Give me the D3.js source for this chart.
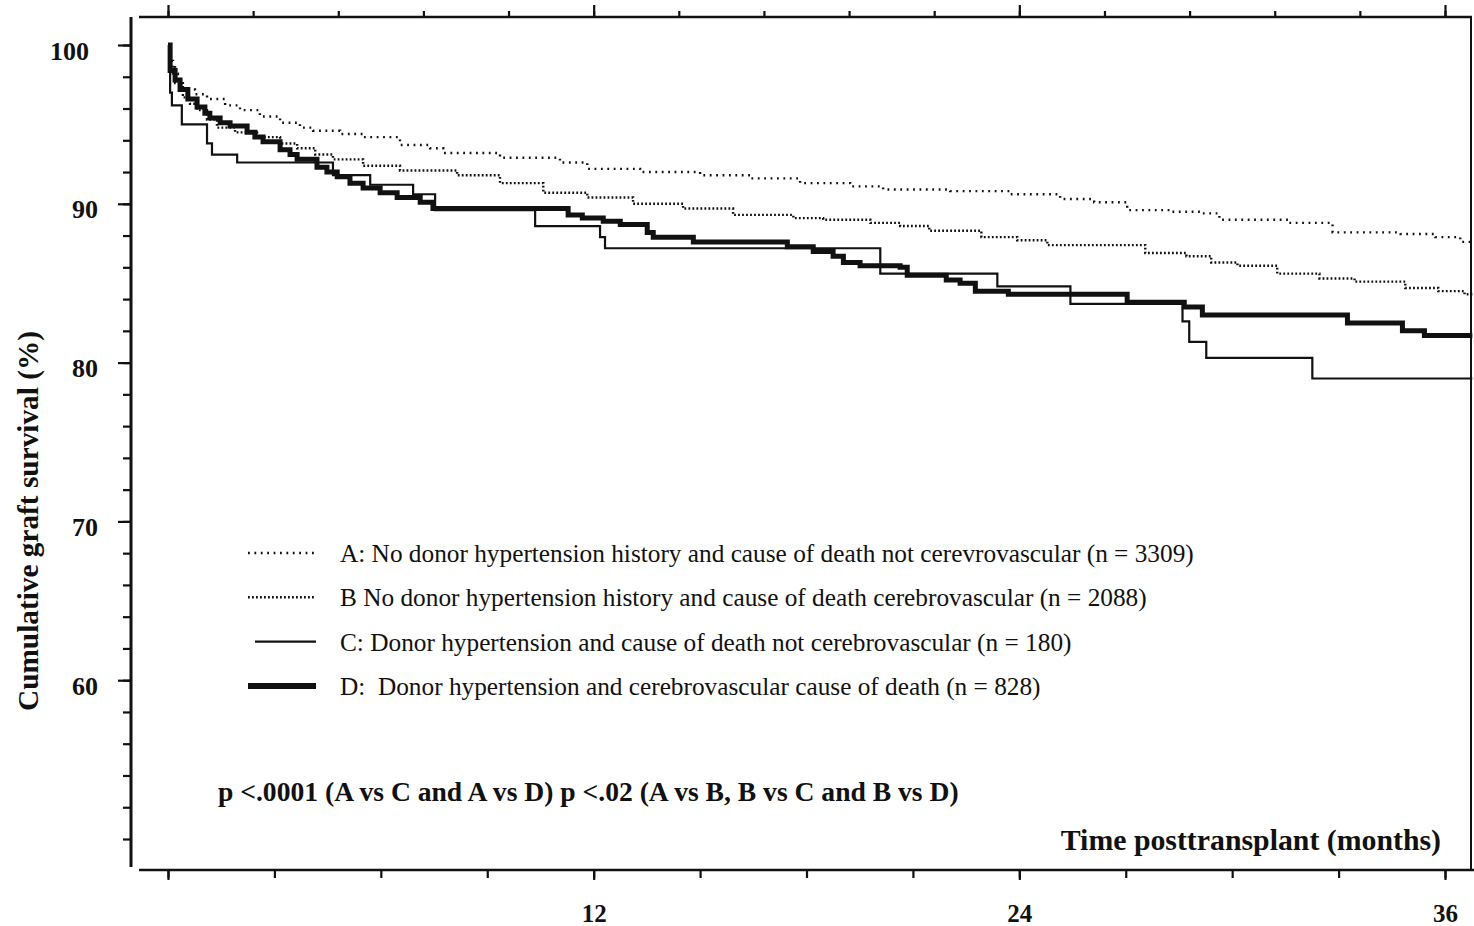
<!DOCTYPE html>
<html>
<head>
<meta charset="utf-8">
<script src="https://cdn.jsdelivr.net/npm/d3@7"></script>
<style>
  body { margin: 0; background: #fff; }
  svg { display: block; }
  text { font-family: "Liberation Serif", "Times New Roman", serif; fill: #111; }
</style>
</head>
<body>
<script>
'use strict';

// survival curves (months, %)
const monthsA = [0, 0.06, 0.14, 0.28, 0.42, 0.76, 1.10, 1.61, 2.03, 2.59, 3.16, 3.72, 4.09, 4.85, 5.50,
  6.54, 7.39, 7.76, 9.36, 11.05, 11.82, 13.31, 15.00, 16.41, 17.82, 19.23, 20.16, 22.05, 23.74, 25.15,
  26.11, 27.04, 28.26, 29.10, 29.64, 31.58, 32.83, 34.75, 35.73, 36.43]
const survA = [100, 99.0, 98.2, 97.6, 97.2, 96.9, 96.6, 96.2, 95.9, 95.5, 95.1, 94.8, 94.6, 94.4, 94.2,
  93.7, 93.5, 93.2, 92.9, 92.6, 92.2, 92.0, 91.8, 91.6, 91.3, 91.1, 90.9, 90.8, 90.6, 90.3,
  90.1, 89.6, 89.5, 89.4, 89.0, 88.8, 88.2, 88.1, 87.9, 87.6]

const monthsB = [0, 0.06, 0.20, 0.42, 0.62, 0.82, 1.10, 1.38, 1.89, 2.51, 3.16, 3.64, 4.15, 4.65, 5.50,
  6.54, 8.15, 9.36, 10.58, 11.82, 13.11, 14.52, 15.93, 17.63, 18.47, 19.80, 20.64, 21.46, 22.93, 23.94,
  24.79, 27.55, 28.71, 29.41, 30.15, 31.27, 32.46, 33.45, 34.88, 35.81, 36.55]
const survB = [100, 98.6, 97.6, 96.7, 96.3, 95.9, 95.3, 94.8, 94.5, 94.2, 93.8, 93.5, 93.1, 92.8, 92.4,
  92.1, 91.8, 91.3, 90.7, 90.4, 90.0, 89.7, 89.3, 89.1, 89.0, 88.8, 88.6, 88.3, 87.9, 87.7,
  87.4, 86.9, 86.7, 86.3, 86.1, 85.6, 85.3, 85.1, 84.7, 84.5, 84.3]

const monthsC = [0, 0.06, 0.11, 0.39, 1.10, 1.24, 1.95, 4.65, 5.70, 6.91, 7.53, 10.35, 12.18, 12.32,
  20.08, 23.38, 25.44, 28.60, 28.79, 29.27, 32.26]
const survC = [100, 97.0, 96.2, 95.0, 93.8, 93.1, 92.6, 91.8, 91.2, 90.6, 89.6, 88.6, 87.9, 87.2,
  85.6, 84.8, 83.7, 82.6, 81.3, 80.3, 79.0]

const monthsD = [0, 0.06, 0.20, 0.34, 0.56, 0.82, 1.04, 1.18, 1.47, 1.75, 2.23, 2.45, 2.68, 3.16, 3.44,
  3.64, 4.20, 4.48, 4.77, 5.13, 5.50, 5.98, 6.46, 7.11, 7.47, 11.28, 11.68, 12.27, 12.75, 13.51,
  13.68, 14.81, 17.46, 18.19, 18.75, 19.04, 19.51, 20.64, 20.84, 21.94, 22.33, 22.76, 23.69, 27.04, 28.65,
  29.16, 33.25, 34.80, 35.42]
const survD = [100, 98.4, 97.8, 97.2, 96.6, 96.1, 95.7, 95.4, 95.1, 94.9, 94.5, 94.2, 93.9, 93.4, 93.1,
  92.8, 92.3, 92.0, 91.7, 91.3, 91.0, 90.7, 90.4, 90.1, 89.7, 89.3, 89.1, 88.9, 88.7, 88.2,
  87.9, 87.6, 87.3, 87.0, 86.7, 86.3, 86.1, 86.0, 85.5, 85.2, 85.0, 84.5, 84.3, 83.8, 83.5,
  83.0, 82.5, 82.0, 81.7]

const followUpEnd = 36.77

const legendLabels = [
  "A: No donor hypertension history and cause of death not cerevrovascular (n = 3309)",
  "B No donor hypertension history and cause of death cerebrovascular (n = 2088)",
  "C: Donor hypertension and cause of death not cerebrovascular (n = 180)",
  "D:  Donor hypertension and cerebrovascular cause of death (n = 828)"
]

const yMajorTicks = [60, 70, 80, 90, 100]
const yMinorTicks = d3.range(50, 101, 2)
const xMajorTicks = [0, 12, 24, 36]
const xTopTicks = d3.range(0, 16).map((i) => +(i * 2.4).toFixed(1))
const xBottomTicks = d3.range(0, 37, 3)

const pText = "p <.0001 (A vs C and A vs D) p <.02 (A vs B, B vs C and B vs D)"
const xTitle = "Time posttransplant (months)"
const yTitle = "Cumulative graft survival (%)"

const m = {
  width: 1474,
  height: 926,
  left: 131,
  top: 17,
  bottom: 870,
  right: 1471
}

const styles = [
  { width: 2.4, dash: "1.8,4.6" },
  { width: 2.4, dash: "1.8,2.2" },
  { width: 2.2, dash: null },
  { width: 5, dash: null }
]

const svg = d3.select('body')
  .append('svg')
  .attr('width', m.width)
  .attr('height', m.height)

const xScale = d3.scaleLinear().domain([0, 36]).range([168, 1445])
const yScale = d3.scaleLinear().domain([50, 100]).range([839, 45])

drawFrame()
drawAxes()
drawCurves()
drawLegend()
drawLabels()


function drawFrame() {
  svg.append('line')
    .attr('x1', m.left).attr('x2', m.left)
    .attr('y1', m.top).attr('y2', m.bottom - 3)
    .attr('stroke', '#111').attr('stroke-width', 3)
  svg.append('line')
    .attr('x1', 139).attr('x2', m.right + 1)
    .attr('y1', m.top).attr('y2', m.top)
    .attr('stroke', '#111').attr('stroke-width', 2.5)
  svg.append('line')
    .attr('x1', 139).attr('x2', m.width)
    .attr('y1', m.bottom).attr('y2', m.bottom)
    .attr('stroke', '#111').attr('stroke-width', 2.5)
  svg.append('line')
    .attr('x1', m.right).attr('x2', m.right)
    .attr('y1', m.top).attr('y2', m.bottom)
    .attr('stroke', '#111').attr('stroke-width', 2)
}

function styleAxis(g) {
  g.select('.domain').remove()
  g.selectAll('.tick line').attr('stroke', '#111').attr('stroke-width', 2.2)
}

function drawAxes() {
  // left: minor every 2, major every 10
  svg.append('g')
    .attr('transform', 'translate(' + m.left + ',0)')
    .call(d3.axisLeft(yScale).tickValues(yMinorTicks).tickSize(8).tickFormat(''))
    .call(styleAxis)
  svg.append('g')
    .attr('transform', 'translate(' + m.left + ',0)')
    .call(d3.axisLeft(yScale).tickValues(yMajorTicks).tickSize(13).tickPadding(20).tickFormat(d3.format('d')))
    .call(styleAxis)
    .call((g) => g.selectAll('text')
      .attr('dy', '14px')
      .attr('dx', (d) => d === 100 ? -9 : 0)
      .style('font-size', '26px')
      .style('font-weight', 'bold'))

  // top
  svg.append('g')
    .attr('transform', 'translate(0,' + m.top + ')')
    .call(d3.axisTop(xScale).tickValues(xTopTicks).tickSize(6).tickFormat(''))
    .call(styleAxis)
  svg.append('g')
    .attr('transform', 'translate(0,' + m.top + ')')
    .call(d3.axisTop(xScale).tickValues(xMajorTicks).tickSize(12).tickFormat(''))
    .call(styleAxis)

  // bottom
  svg.append('g')
    .attr('transform', 'translate(0,' + m.bottom + ')')
    .call(d3.axisBottom(xScale).tickValues(xBottomTicks).tickSize(8).tickFormat(''))
    .call(styleAxis)
  svg.append('g')
    .attr('transform', 'translate(0,' + m.bottom + ')')
    .call(d3.axisBottom(xScale).tickValues(xMajorTicks).tickSize(10)
      .tickFormat((d) => d === 0 ? '' : d))
    .call(styleAxis)
    .call((g) => g.selectAll('text')
      .attr('y', 52)
      .attr('dy', 0)
      .style('font-size', '25px')
      .style('font-weight', 'bold'))
}

function makeSeries(months, surv) {
  let pts = months.map((t, i) => ({ t: t, v: surv[i] }))
  pts.push({ t: followUpEnd, v: surv[surv.length - 1] })
  return pts
}

function drawCurves() {
  const series = [
    makeSeries(monthsA, survA),
    makeSeries(monthsB, survB),
    makeSeries(monthsC, survC),
    makeSeries(monthsD, survD)
  ]
  const line = d3.line()
    .x((d) => xScale(d.t))
    .y((d) => yScale(d.v))
    .curve(d3.curveStepAfter)

  svg.selectAll('.km')
    .data(series)
    .enter()
    .append('path')
      .attr('class', 'km')
      .attr('d', line)
      .attr('fill', 'none')
      .attr('stroke', '#111')
      .attr('stroke-width', (d, i) => styles[i].width)
      .attr('stroke-dasharray', (d, i) => styles[i].dash)
}

function drawLegend() {
  let legend = svg.selectAll('.legend')
    .data(legendLabels)
  .enter().append('g')
    .attr('class', 'legend')
    .attr('transform', (d, i) => 'translate(0,' + (553 + i * 44.3) + ')')

  legend.append('line')
    .attr('x1', (d, i) => i === 2 ? 255 : 248)
    .attr('x2', 316)
    .attr('y1', 0).attr('y2', 0)
    .attr('stroke', '#111')
    .attr('stroke-width', (d, i) => styles[i].width + (i === 3 ? 1 : 0))
    .attr('stroke-dasharray', (d, i) => styles[i].dash)

  legend.append('text')
    .attr('x', 340)
    .attr('y', 9)
    .style('font-size', '25.3px')
    .style('white-space', 'pre')
    .text((d) => d)
}

function drawLabels() {
  svg.append('text')
    .attr('x', 218)
    .attr('y', 801)
    .style('font-size', '27.6px')
    .style('font-weight', 'bold')
    .text(pText)

  svg.append('text')
    .attr('x', 1441)
    .attr('y', 850)
    .attr('text-anchor', 'end')
    .style('font-size', '29.8px')
    .style('font-weight', 'bold')
    .text(xTitle)

  svg.append('text')
    .attr('transform', 'translate(38,521)rotate(-90)')
    .attr('text-anchor', 'middle')
    .style('font-size', '29.3px')
    .style('font-weight', 'bold')
    .text(yTitle)
}
</script>
</body>
</html>
